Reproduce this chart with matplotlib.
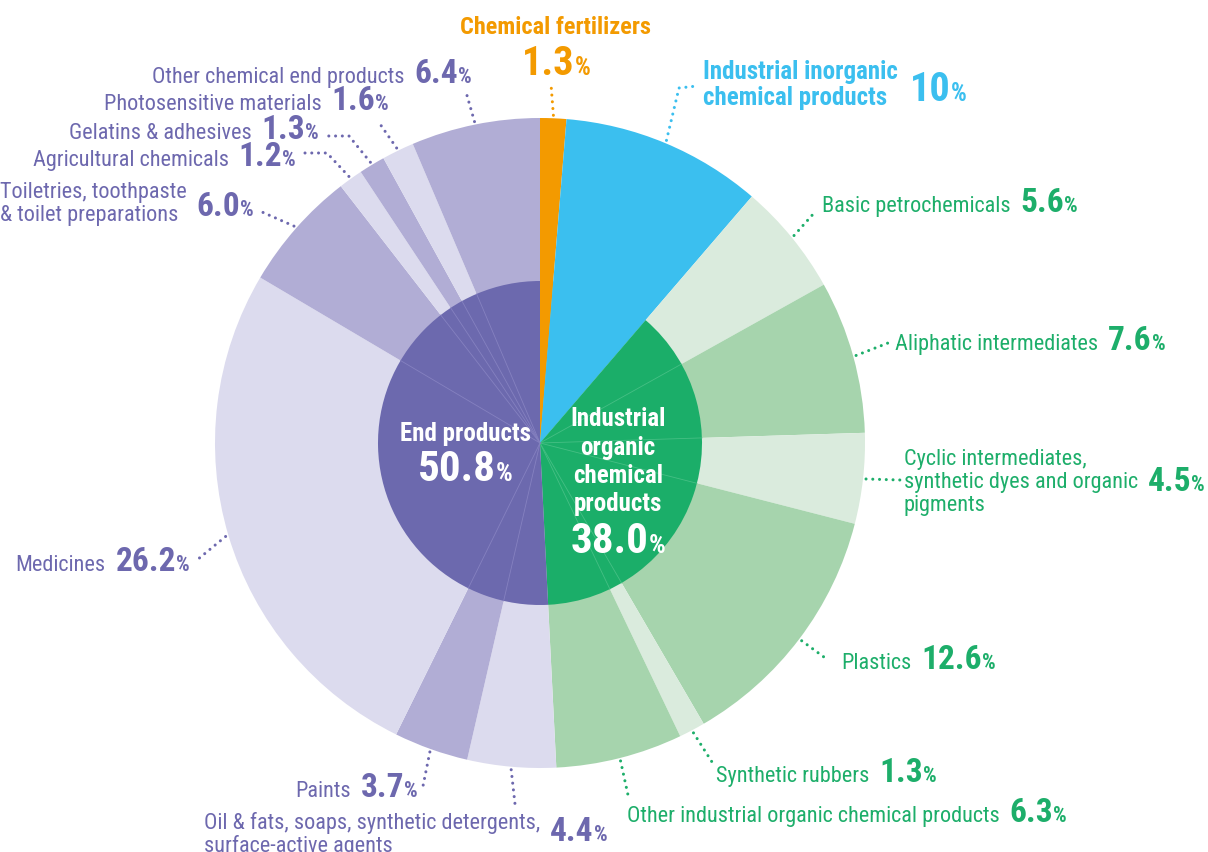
import numpy as np
import matplotlib
matplotlib.use('Agg')
import matplotlib.pyplot as plt

plt.rcParams['font.family'] = ['Roboto Condensed', 'DejaVu Sans']
plt.rcParams['font.stretch'] = 'condensed'

# outer ring, clockwise from 12 o'clock
names = ['Chemical fertilizers',
         'Industrial inorganic\nchemical products',
         'Basic petrochemicals',
         'Aliphatic intermediates',
         'Cyclic intermediates,\nsynthetic dyes and organic\npigments',
         'Plastics',
         'Synthetic rubbers',
         'Other industrial organic chemical products',
         'Oil & fats, soaps, synthetic detergents,\nsurface-active agents',
         'Paints',
         'Medicines',
         'Toiletries, toothpaste\n& toilet preparations',
         'Agricultural chemicals',
         'Gelatins & adhesives',
         'Photosensitive materials',
         'Other chemical end products']
shares = [1.3, 10, 5.6, 7.6, 4.5, 12.6, 1.3, 6.3,
          4.4, 3.7, 26.2, 6.0, 1.2, 1.3, 1.6, 6.4]
group_of = [0, 1, 2, 2, 2, 2, 2, 2, 3, 3, 3, 3, 3, 3, 3, 3]

# inner pie
group_names = ['Chemical fertilizers', 'Industrial inorganic chemical products',
               'Industrial\norganic\nchemical\nproducts', 'End products']
group_shares = [1.3, 10, 38.0, 50.8]

ORANGE = '#F39A00'
BLUE = '#3BBFEF'
GREEN_D, GREEN_M, GREEN_L = '#1BAE69', '#A6D4AD', '#DAEBDD'
PURP_D, PURP_M, PURP_L = '#6C69AE', '#B1ADD5', '#DCDBEE'
TXT_GREEN, TXT_PURP = '#1DAE6A', '#6D68AE'

outer_colors = [ORANGE, BLUE, GREEN_L, GREEN_M, GREEN_L, GREEN_M, GREEN_L, GREEN_M,
                PURP_L, PURP_M, PURP_L, PURP_M, PURP_L, PURP_M, PURP_L, PURP_M]
inner_colors = [ORANGE, BLUE, GREEN_D, PURP_D]
text_colors = [ORANGE, BLUE, TXT_GREEN, TXT_PURP]


def fmt(v):
    return '%d' % v if isinstance(v, int) else '%.1f' % v


fig = plt.figure(figsize=(12.08, 8.52), dpi=100)
ax = fig.add_axes([0, 0, 1, 1])

cx, cy, R, r_in = 540, 443, 325, 162

# y axis points down (pixel like), so angles run the other way
wedges, _ = ax.pie(shares, colors=outer_colors, radius=R, center=(cx, cy),
                   startangle=-90, counterclock=True,
                   wedgeprops=dict(linewidth=0))
inner_vals = [sum(s for s, g in zip(shares, group_of) if g == k) for k in range(4)]
ax.pie(inner_vals, colors=inner_colors, radius=r_in, center=(cx, cy),
       startangle=-90, counterclock=True, wedgeprops=dict(linewidth=0))

# faint sub-division lines inside the inner pie
for i in range(2, len(shares)):
    if group_of[i] == group_of[i - 1]:
        a = np.deg2rad(wedges[i].theta1)
        c = '#45bf84' if group_of[i] == 2 else '#8581c0'
        ax.plot([cx, cx + r_in * np.cos(a)], [cy, cy + r_in * np.sin(a)],
                color=c, lw=0.6, zorder=3)

ax.set_xlim(0, 1208)
ax.set_ylim(852, 0)
ax.set_aspect('equal')
ax.axis('off')

fig.canvas.draw()
rend = fig.canvas.get_renderer()

NAME, NUM, PCT = 16, 24, 15.5


def width(t):
    return t.get_window_extent(renderer=rend).width


def number(x, y, num, color, numsz, pctsz, ha='left', draw=True):
    tn = ax.text(0, y, num, color=color, fontsize=numsz, fontweight='bold',
                 va='baseline', ha='left')
    tp = ax.text(0, y, '%', color=color, fontsize=pctsz, fontweight='bold',
                 va='baseline', ha='left')
    w = width(tn) + width(tp)
    if not draw:
        tn.remove()
        tp.remove()
        return w
    x0 = {'left': x, 'center': x - w / 2, 'right': x - w}[ha]
    tn.set_x(x0)
    tp.set_x(x0 + width(tn))
    return w


def label(x, y, lines, num, color, ha='left', ny=None, lsp=23,
          name_w='normal', nsz=NAME, numsz=NUM, pctsz=PCT, gap=10):
    if ny is None:
        ny = y
    ts = [ax.text(0, y + k * lsp, s, color=color, fontsize=nsz, fontweight=name_w,
                  va='baseline', ha='left') for k, s in enumerate(lines)]
    wn = max(width(t) for t in ts)
    w = number(0, ny, num, color, numsz, pctsz, draw=False)
    x0 = x if ha == 'left' else x - (wn + gap + w)
    for t in ts:
        t.set_x(x0)
    number(x0 + wn + gap, ny, num, color, numsz, pctsz)


# label anchors: (x, baseline y, anchor side, number baseline)
anchors = {
    2: (822, 212, 'left', None),
    3: (895, 350, 'left', None),
    4: (1205, 465, 'right', 491),
    5: (841, 669, 'left', None),
    6: (716, 782, 'left', None),
    7: (627, 822, 'left', None),
    8: (204, 829, 'left', 841),
    9: (418, 797, 'right', None),
    10: (190, 571, 'right', None),
    11: (254, 198, 'right', 216),
    12: (296, 166, 'right', None),
    13: (319, 139, 'right', None),
    14: (389, 110, 'right', None),
    15: (472, 83, 'right', None),
}
for i, (x, y, side, ny) in anchors.items():
    label(x, y, names[i].split('\n'), fmt(shares[i]), text_colors[group_of[i]],
          ha=side, ny=ny)

# top two labels (bold names)
ax.text(556, 34, names[0], color=ORANGE, fontsize=17.5, fontweight='bold',
        ha='center', va='baseline')
number(556, 75, fmt(shares[0]), ORANGE, 29, 18, ha='center')

label(703, 79, names[1].split('\n'), fmt(shares[1]), BLUE, ny=101, lsp=26,
      name_w='bold', nsz=18, numsz=29, pctsz=18, gap=12)

# leaders: from the wedge edge out to the label
leaders = {
    0: [(551, 84)],
    1: [(679, 88), (697, 86)],
    2: [(815, 212)],
    3: [(888, 343)],
    4: [(900, 480)],
    5: [(828, 660)],
    6: [(712, 762)],
    7: [(628, 795)],
    8: [(515, 804)],
    9: [(423, 786)],
    10: [(197, 560)],
    11: [(262, 212)],
    12: [(327, 153), (301, 153)],
    13: [(349, 136), (325, 136)],
    14: [(380, 124)],
    15: [(466, 92)],
}
for i, pts in leaders.items():
    a = np.deg2rad((wedges[i].theta1 + wedges[i].theta2) / 2)
    xs = [cx + (R + 3) * np.cos(a)] + [p[0] for p in pts]
    ys = [cy + (R + 3) * np.sin(a)] + [p[1] for p in pts]
    ax.plot(xs, ys, color=text_colors[group_of[i]], lw=2.2,
            linestyle=(0, (0.01, 2.2)), dash_capstyle='round', zorder=4)

# centre labels
ax.text(465, 441, group_names[3], color='white', fontsize=18, fontweight='bold',
        ha='center', va='baseline')
number(465, 481, fmt(group_shares[3]), 'white', 31, 19, ha='center')
for k, s in enumerate(group_names[2].split('\n')):
    ax.text(618, 426 + k * 28.5, s, color='white', fontsize=18, fontweight='bold',
            ha='center', va='baseline')
number(618, 553, fmt(group_shares[2]), 'white', 31, 19, ha='center')

fig.savefig('out.png', dpi=100)
